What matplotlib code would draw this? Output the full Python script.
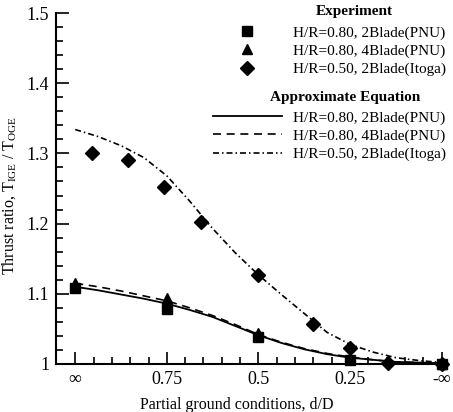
import matplotlib
matplotlib.use('Agg')
import matplotlib.pyplot as plt
from matplotlib.lines import Line2D

plt.rcParams['font.family'] = 'Liberation Serif'
plt.rcParams['mathtext.fontset'] = 'custom'
plt.rcParams['mathtext.rm'] = 'Liberation Serif'
plt.rcParams['mathtext.it'] = 'Liberation Serif:italic'

# x positions on the partial-ground axis (inf .. -inf equally spaced)
xtick_pos = [0, 1, 2, 3, 4]
xtick_labels = ['\u221e', '0.75', '0.5', '0.25', '-\u221e']
ytick_pos = [1.0, 1.1, 1.2, 1.3, 1.4, 1.5]
ytick_labels = ['1', '1.1', '1.2', '1.3', '1.4', '1.5']

# experiment
x_pnu = [0, 1, 2, 3, 4]
y_pnu2 = [1.108, 1.078, 1.038, 1.006, 1.000]
y_pnu4 = [1.115, 1.094, 1.044, 1.008, 1.000]
x_itoga = [0.18, 0.58, 0.97, 1.37, 2.0, 2.6, 3.0, 3.41, 4.0]
y_itoga = [1.300, 1.291, 1.252, 1.202, 1.127, 1.057, 1.023, 1.001, 1.000]

# approximate equation
x_eq = [0, 0.25, 0.5, 0.75, 1.0, 1.25, 1.5, 1.75, 2.0, 2.25, 2.5, 2.75, 3.0, 3.25, 3.5, 3.75, 4.0]
y_eq2 = [1.110, 1.105, 1.099, 1.093, 1.086, 1.077, 1.067, 1.054, 1.041, 1.030, 1.021, 1.014, 1.009, 1.006, 1.003, 1.002, 1.001]
y_eq4 = [1.115, 1.110, 1.104, 1.097, 1.090, 1.080, 1.069, 1.056, 1.042, 1.031, 1.022, 1.015, 1.010, 1.006, 1.003, 1.002, 1.001]
y_eqi = [1.334, 1.324, 1.311, 1.294, 1.268, 1.232, 1.193, 1.158, 1.127, 1.099, 1.072, 1.045, 1.028, 1.017, 1.009, 1.005, 1.002]

labels = ['H/R=0.80, 2Blade(PNU)', 'H/R=0.80, 4Blade(PNU)', 'H/R=0.50, 2Blade(Itoga)']

fig = plt.figure(figsize=(4.53, 4.12), dpi=100)
ax = fig.add_axes([56/453, 48/412, 392/453, 351/412])

dash = (0, (4.8, 3.4))
dashdot = (0, (3.6, 1.8, 0.9, 1.8))
ax.plot(x_eq, y_eq2, color='k', lw=1.3, ls='-')
ax.plot(x_eq, y_eq4, color='k', lw=1.2, ls=dash)
ax.plot(x_eq, y_eqi, color='k', lw=1.2, ls=dashdot)
ax.plot(x_pnu, y_pnu4, '^', color='k', ms=7, clip_on=False)
ax.plot(x_pnu, y_pnu2, 's', color='k', ms=7, clip_on=False)
ax.plot(x_itoga, y_itoga, 'D', color='k', ms=7, clip_on=False)

ax.set_xlim(-0.21, 4.07)
ax.set_ylim(1.0, 1.5)
ax.set_xticks(xtick_pos)
ax.set_xticklabels(xtick_labels)
ax.set_xticks([i / 5 for i in range(0, 21)], minor=True)
ax.set_yticks(ytick_pos)
ax.set_yticklabels(ytick_labels)
ax.set_yticks([1 + i * 0.02 for i in range(26)], minor=True)
ax.tick_params(which='both', direction='in', width=1.2, labelsize=13)
ax.tick_params(which='major', length=9, pad=5)
ax.tick_params(which='minor', length=5)
ax.spines['top'].set_visible(False)
ax.spines['right'].set_visible(False)
ax.spines['left'].set_linewidth(1.5)
ax.spines['bottom'].set_linewidth(1.5)

ax.set_xlabel('Partial ground conditions, d/D', fontsize=11.5)
ax.set_ylabel('Thrust ratio, T$_{\\mathrm{IGE}}$ / T$_{\\mathrm{OGE}}$', fontsize=11.5)
ax.xaxis.set_label_coords(0.462, -0.094)
ax.yaxis.set_label_coords(-0.097, 0.48)

# legends
h_exp = [Line2D([], [], marker=m, color='k', ls='none', ms=7) for m in ['s', '^', 'D']]
h_eq = [Line2D([], [], color='k', lw=1.3, ls='-'),
        Line2D([], [], color='k', lw=1.2, ls=dash),
        Line2D([], [], color='k', lw=1.2, ls=dashdot)]
kw = dict(frameon=False, fontsize=11, handlelength=4.5, handletextpad=0.75,
          labelspacing=0.28, borderpad=0, borderaxespad=0, loc='upper left')
fig.legend(h_exp, labels, bbox_to_anchor=(213/453, 1 - 26/412), **kw)
fig.legend(h_eq, labels, bbox_to_anchor=(213/453, 1 - 111/412), **kw)
fig.text(354/453, 1 - 11/412, 'Experiment', fontsize=11, fontweight='bold', ha='center', va='center')
fig.text(345/453, 1 - 97/412, 'Approximate Equation', fontsize=11, fontweight='bold', ha='center', va='center')

fig.savefig('out.png', dpi=100)
